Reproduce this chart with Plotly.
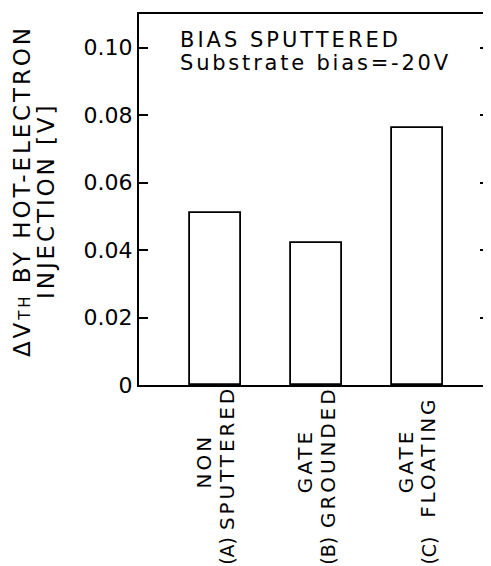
import plotly.graph_objects as go

categories = ["A", "B", "C"]
values = [0.0510, 0.0421, 0.0763]
label_top = ["NON", "GATE", "GATE"]
label_bottom = ["SPUTTERED", "GROUNDED", "FLOATING"]
label_prefix = ["(A)", "(B)", "(C)"]
ytick_vals = [0, 0.02, 0.04, 0.06, 0.08, 0.10]
ytick_text = ["0", "0.02", "0.04", "0.06", "0.08", "0.10"]
note_lines = ["BIAS SPUTTERED", "Substrate bias=-20V"]
ytitle_lines = ["ΔV<span style='font-size:15px'>TH</span> BY HOT-ELECTRON", "INJECTION [V]"]

FONT = "DejaVu Sans"
BLACK = "black"
PAGE_OFFSET = 8  # default body margin of the html page


def sp(text, px):
    return f"<span style='letter-spacing:{px}px'>{text}</span>"


fig = go.Figure()
fig.add_trace(go.Bar(
    x=categories, y=values, width=0.505,
    marker=dict(color="white", line=dict(color=BLACK, width=1.8)),
    showlegend=False,
))

annotations = []
for c, t, b, p in zip(categories, label_top, label_bottom, label_prefix):
    annotations.append(dict(
        x=c, y=-0.205, xref="x", yref="paper", text=sp(t, 3),
        textangle=-90, showarrow=False, xanchor="center", yanchor="middle",
        xshift=-11, font=dict(family=FONT, size=20, color=BLACK),
    ))
    annotations.append(dict(
        x=c, y=-0.196, xref="x", yref="paper", text=sp(b, 2.9),
        textangle=-90, showarrow=False, xanchor="center", yanchor="middle",
        xshift=11, font=dict(family=FONT, size=20, color=BLACK),
    ))
    annotations.append(dict(
        x=c, y=-0.403, xref="x", yref="paper", text=p,
        textangle=-90, showarrow=False, xanchor="center", yanchor="top",
        xshift=11, font=dict(family=FONT, size=19, color=BLACK),
    ))

annotations.append(dict(x=0.111, y=0.930, xref="paper", yref="paper", text=sp(note_lines[0], 3),
                        showarrow=False, xanchor="left", yanchor="middle",
                        font=dict(family=FONT, size=21, color=BLACK)))
annotations.append(dict(x=0.111, y=0.869, xref="paper", yref="paper", text=sp(note_lines[1], 2.8),
                        showarrow=False, xanchor="left", yanchor="middle",
                        font=dict(family=FONT, size=21, color=BLACK)))

annotations.append(dict(x=-0.334, y=0.523, xref="paper", yref="paper", text=sp(ytitle_lines[0], 2.9),
                        textangle=-90, showarrow=False, xanchor="center", yanchor="middle",
                        font=dict(family=FONT, size=23, color=BLACK)))
annotations.append(dict(x=-0.266, y=0.496, xref="paper", yref="paper", text=sp(ytitle_lines[1], 2.9),
                        textangle=-90, showarrow=False, xanchor="center", yanchor="middle",
                        font=dict(family=FONT, size=23, color=BLACK)))

fig.update_layout(
    width=491 - PAGE_OFFSET, height=566 - PAGE_OFFSET,
    margin=dict(l=139 - PAGE_OFFSET, r=2, t=14 - PAGE_OFFSET, b=181),
    paper_bgcolor="white", plot_bgcolor="white",
    font=dict(family=FONT, size=21, color=BLACK),
    xaxis=dict(range=[-0.757, 2.713], showticklabels=False, ticks="",
               showline=True, mirror=True, linecolor=BLACK, linewidth=2,
               showgrid=False, zeroline=False, automargin=False),
    yaxis=dict(range=[0, 0.110], tickvals=ytick_vals, ticktext=ytick_text,
               ticks="inside", ticklen=9, tickwidth=2, tickcolor=BLACK,
               showline=True, mirror="allticks", linecolor=BLACK, linewidth=2,
               showgrid=False, zeroline=False, automargin=False,
               tickfont=dict(family=FONT, size=22, color=BLACK)),
    annotations=annotations,
    bargap=0,
)
fig.write_html("out.html")
